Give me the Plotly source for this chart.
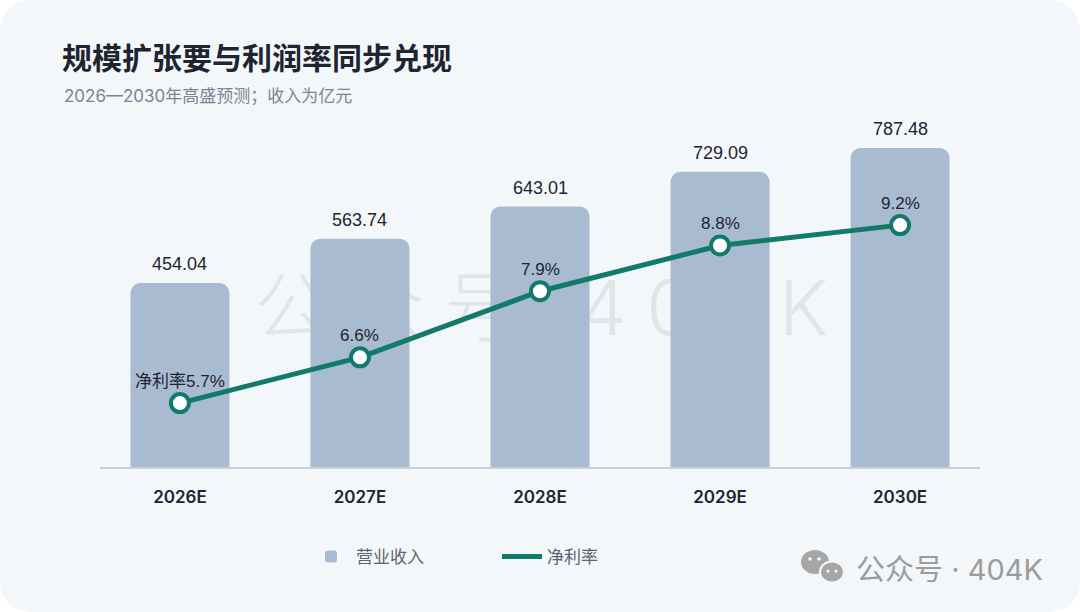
import plotly.graph_objects as go

# data
years = ["2026E", "2027E", "2028E", "2029E", "2030E"]
revenue = [454.04, 563.74, 643.01, 729.09, 787.48]  # 亿元
net_margin = [5.7, 6.6, 7.9, 8.8, 9.2]  # %
margin_labels = ["净利率5.7%", "6.6%", "7.9%", "8.8%", "9.2%"]

BAR = "#a8bbd1"
TEAL = "#127a69"
INK = "#1e2430"
FONT = "Inter, Noto Sans CJK SC, sans-serif"
NUM_FONT = "Liberation Sans, Noto Sans CJK SC, sans-serif"

W, H = 1080, 612
L, R, T, B = 100, 100, 100, 145
PW, PH = W - L - R, H - T - B


def px_x(x):
    return (x - L) / PW


def px_y(y):
    return (H - B - y) / PH


def rounded_card(x0, y0, x1, y1, r):
    # path in paper coords from pixel box
    def p(x, y):
        return f"{px_x(x):.5f},{px_y(y):.5f}"
    return (f"M {p(x0 + r, y0)} L {p(x1 - r, y0)} Q {p(x1, y0)} {p(x1, y0 + r)} "
            f"L {p(x1, y1 - r)} Q {p(x1, y1)} {p(x1 - r, y1)} "
            f"L {p(x0 + r, y1)} Q {p(x0, y1)} {p(x0, y1 - r)} "
            f"L {p(x0, y0 + r)} Q {p(x0, y0)} {p(x0 + r, y0)} Z")


def blob(cx, cy, rx, ry, color, line=None):
    return dict(type="circle", xref="paper", yref="paper", layer="above",
                x0=px_x(cx - rx), x1=px_x(cx + rx), y0=px_y(cy + ry), y1=px_y(cy - ry),
                fillcolor=color, line=line or dict(width=0))


fig = go.Figure()

fig.add_trace(go.Bar(
    x=years, y=revenue, name="营业收入",
    marker=dict(color=BAR, cornerradius=10, line=dict(width=0)),
    width=0.55, yaxis="y", hoverinfo="skip",
))

fig.add_trace(go.Scatter(
    x=years, y=net_margin, name="净利率", mode="lines",
    line=dict(color=TEAL, width=5), yaxis="y2", hoverinfo="skip",
))
fig.add_trace(go.Scatter(
    x=years, y=net_margin, mode="markers", showlegend=False,
    marker=dict(size=18, color="white", line=dict(color=TEAL, width=4)),
    yaxis="y2", hoverinfo="skip",
))

# value labels
for yr, v in zip(years, revenue):
    fig.add_annotation(x=yr, y=v, yref="y", text=f"{v:.2f}", showarrow=False,
                       yshift=19, font=dict(size=18, color=INK, family=NUM_FONT))
for yr, v, lab in zip(years, net_margin, margin_labels):
    fig.add_annotation(x=yr, y=v, yref="y2", text=lab, showarrow=False,
                       yshift=22, font=dict(size=17, color=INK, family=NUM_FONT))

# subtitle
fig.add_annotation(x=px_x(62), y=px_y(96), xref="paper", yref="paper",
                   xanchor="left", yanchor="middle", showarrow=False,
                   text="2026—2030年高盛预测；收入为亿元",
                   font=dict(size=17, color="#7b8494", family=FONT))

# bottom-right watermark
fig.add_annotation(x=px_x(1045), y=px_y(569), xref="paper", yref="paper",
                   xanchor="right", yanchor="middle", showarrow=False,
                   text="公众号 · 404K",
                   font=dict(size=29, color="#9c9c9c", family=FONT))

sp = "\u2005"
icon = [
    blob(815, 562, 14, 12, "#a6a6a6"),
    blob(832, 572, 12, 10.5, "#a6a6a6", dict(color="#f3f7fa", width=2)),
    blob(810, 559, 1.8, 1.8, "#f3f7fa"),
    blob(819, 559, 1.8, 1.8, "#f3f7fa"),
    blob(828, 571, 1.6, 1.6, "#f3f7fa"),
    blob(836, 571, 1.6, 1.6, "#f3f7fa"),
]

fig.update_layout(
    width=W, height=H,
    margin=dict(l=L, r=R, t=T, b=B),
    paper_bgcolor="#ffffff",
    plot_bgcolor="rgba(0,0,0,0)",
    font=dict(family=FONT, color=INK),
    title=dict(text="<b>规模扩张要与利润率同步兑现</b>", xref="container", yref="container",
               x=62 / W, y=1 - 58 / H, xanchor="left", yanchor="middle",
               font=dict(size=30, color=INK, family=FONT)),
    xaxis=dict(type="category", range=[-0.444, 4.444], showgrid=False,
               showline=True, linecolor="#c9d0d8", linewidth=2, ticks="",
               ticklabelstandoff=14,
               tickfont=dict(size=17, color=INK, family=FONT, weight=600)),
    yaxis=dict(range=[0, 906.2], visible=False, showgrid=False, zeroline=False),
    yaxis2=dict(range=[4.444, 11.66], overlaying="y", visible=False,
                showgrid=False, zeroline=False),
    legend=dict(orientation="h", x=px_x(306), y=px_y(557), xanchor="left",
                yanchor="middle", entrywidth=136, itemwidth=40,
                bgcolor="rgba(0,0,0,0)",
                font=dict(size=17, color="#5b6371", family=FONT)),
    showlegend=True,
    shapes=[
        dict(type="path", xref="paper", yref="paper", layer="below",
             path=rounded_card(0, 0, W, H, 34), fillcolor="#f3f7fa",
             line=dict(width=0)),
        dict(type="rect", xref="paper", yref="paper", layer="below",
             x0=px_x(257), x1=px_x(825), y0=px_y(345), y1=px_y(265),
             line=dict(width=0), fillcolor="rgba(0,0,0,0)",
             label=dict(text=sp.join("公众号·404K"), textposition="middle center",
                        font=dict(size=76, color="#e2e5e8", family=FONT, weight=300))),
    ] + icon,
)

fig.write_html("out.html", config={"displayModeBar": False},
               post_script="document.body.style.margin='0';")
